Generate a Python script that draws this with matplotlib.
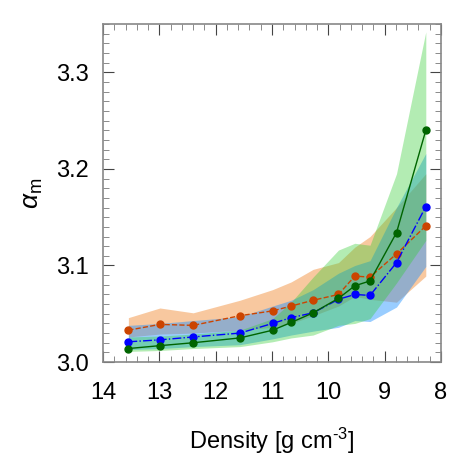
import matplotlib
matplotlib.use("Agg")
import matplotlib.pyplot as plt
from matplotlib.ticker import MultipleLocator

plt.rcParams['font.family'] = ['Liberation Sans', 'DejaVu Sans']
plt.rcParams['mathtext.fontset'] = 'custom'
plt.rcParams['mathtext.rm'] = 'Liberation Sans'
plt.rcParams['mathtext.it'] = 'Liberation Sans:italic'

density = [13.55, 12.99, 12.40, 11.57, 10.99, 10.66, 10.27, 9.82, 9.53, 9.26, 8.79, 8.27]

orange_mean = [3.033, 3.039, 3.038, 3.048, 3.053, 3.058, 3.064, 3.070, 3.089, 3.088, 3.112, 3.141]
orange_hi = [3.046, 3.056, 3.051, 3.064, 3.075, 3.083, 3.096, 3.103, 3.119, 3.130, 3.160, 3.195]
orange_lo = [3.026, 3.029, 3.030, 3.033, 3.036, 3.040, 3.048, 3.058, 3.068, 3.065, 3.062, 3.089]

blue_mean = [3.021, 3.023, 3.026, 3.030, 3.040, 3.046, 3.051, 3.065, 3.070, 3.069, 3.103, 3.161]
blue_hi = [3.038, 3.040, 3.043, 3.047, 3.058, 3.064, 3.075, 3.092, 3.100, 3.105, 3.160, 3.216]
blue_lo = [3.013, 3.014, 3.016, 3.018, 3.024, 3.028, 3.032, 3.036, 3.043, 3.042, 3.057, 3.099]

green_mean = [3.014, 3.017, 3.020, 3.025, 3.033, 3.041, 3.051, 3.066, 3.079, 3.084, 3.134, 3.240]
green_hi = [3.026, 3.027, 3.029, 3.033, 3.045, 3.062, 3.088, 3.116, 3.123, 3.121, 3.195, 3.342]
green_lo = [3.011, 3.012, 3.014, 3.016, 3.021, 3.025, 3.028, 3.038, 3.040, 3.045, 3.082, 3.126]

fig = plt.figure(figsize=(4.63, 4.63), dpi=100)
ax = fig.add_axes([0.2225, 0.218, 0.73, 0.73])

# shaded ranges
ax.fill_between(density, orange_lo, orange_hi, color='#f4a460', alpha=0.6, lw=0)
ax.fill_between(density, blue_lo, blue_hi, color='#1e90ff', alpha=0.45, lw=0)
ax.fill_between(density, green_lo, green_hi, color='#32cd32', alpha=0.37, lw=0)

# mean curves
ax.plot(density, orange_mean, '--', color='#cc4400', lw=1, marker='o', ms=5)
ax.plot(density, blue_mean, '-.', color='#0000ff', lw=1, marker='o', ms=5)
ax.plot(density, green_mean, '-', color='#006400', lw=1, marker='o', ms=5)

ax.set_xlim(14, 8)
ax.set_ylim(3.0, 3.35)
ax.xaxis.set_major_locator(MultipleLocator(1))
ax.xaxis.set_minor_locator(MultipleLocator(0.2))
ax.yaxis.set_major_locator(MultipleLocator(0.1))
ax.yaxis.set_minor_locator(MultipleLocator(0.01))
ax.tick_params(which='both', direction='in', top=True, right=True, color='#444444')
ax.tick_params(which='major', length=8, labelsize=17)
ax.tick_params(axis='x', which='major', pad=14)
ax.tick_params(axis='y', which='major', pad=10)
ax.tick_params(which='minor', length=4, color='#777777')
for s in ax.spines.values():
    s.set_color('#888888')
    s.set_linewidth(1.2)

ax.set_xlabel(r'Density [g cm$^{\text{-3}}$]', fontsize=17, labelpad=16)
ax.set_ylabel(r'$\alpha_{\mathrm{m}}$', fontsize=19, labelpad=8)

fig.savefig('out.png', dpi=100)
